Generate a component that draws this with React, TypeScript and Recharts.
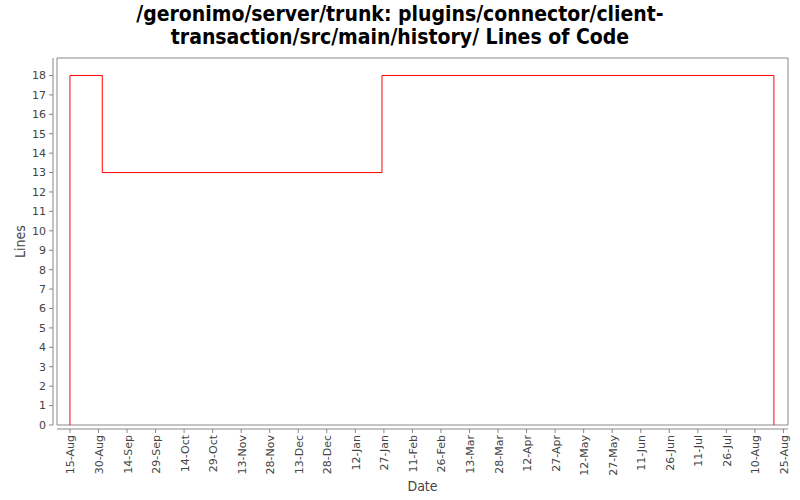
import React from 'react';
import { LineChart, Line, XAxis, YAxis, ReferenceArea } from 'recharts';

const TITLE_LINES = [
  '/geronimo/server/trunk: plugins/connector/client-',
  'transaction/src/main/history/ Lines of Code',
];

// history points (step after)
const DATES = ['2005-08-15', '2005-08-15', '2005-09-01', '2006-01-26', '2006-08-20'];
const LOC = [0, 18, 13, 18, 0];

const X_TICK_DATES = [
  '2005-08-15', '2005-08-30', '2005-09-14', '2005-09-29', '2005-10-14', '2005-10-29',
  '2005-11-13', '2005-11-28', '2005-12-13', '2005-12-28', '2006-01-12', '2006-01-27',
  '2006-02-11', '2006-02-26', '2006-03-13', '2006-03-28', '2006-04-12', '2006-04-27',
  '2006-05-12', '2006-05-27', '2006-06-11', '2006-06-26', '2006-07-11', '2006-07-26',
  '2006-08-10', '2006-08-25',
];
const Y_TICKS = [0, 1, 2, 3, 4, 5, 6, 7, 8, 9, 10, 11, 12, 13, 14, 15, 16, 17, 18];

const MONTHS = ['Jan', 'Feb', 'Mar', 'Apr', 'May', 'Jun', 'Jul', 'Aug', 'Sep', 'Oct', 'Nov', 'Dec'];
const DAY = 86400000;
const X_MIN = Date.parse('2005-08-15') - 6.8 * DAY;
const X_MAX = Date.parse('2005-08-15') + 377.4 * DAY;
const Y_MAX = 18.9;

const FONT = '"DejaVu Sans", sans-serif';
const FONT_NARROW = '"DejaVu Sans Condensed", "DejaVu Sans", sans-serif';
const AXIS = '#888888';
const TEXT = '#444444';

const data = DATES.map((d, i) => ({ t: Date.parse(d), loc: LOC[i] }));
const xTicks = X_TICK_DATES.map((d) => Date.parse(d));

const fmtDate = (t: number) => {
  const d = new Date(t);
  return `${d.getUTCDate()}-${MONTHS[d.getUTCMonth()]}`;
};

const DateTick = (props: any) => {
  const { x, payload } = props;
  return (
    <text
      transform={`translate(${x},435) rotate(-90)`}
      x={0}
      y={4.5}
      textAnchor="end"
      fill={TEXT}
      fontSize={11}
      fontFamily={FONT}
    >
      {fmtDate(payload.value)}
    </text>
  );
};

export default function App() {
  return (
    <div style={{ position: 'absolute', left: 0, top: 0, width: 800, height: 500, background: '#fff' }}>
      <div
        style={{
          position: 'absolute',
          left: 0,
          top: 3,
          width: 800,
          textAlign: 'center',
          fontFamily: FONT_NARROW,
          fontWeight: 'bold',
          fontSize: 21,
          lineHeight: '23px',
          color: '#000',
        }}
      >
        {TITLE_LINES.map((l) => (
          <div key={l}>{l}</div>
        ))}
      </div>
      <LineChart width={800} height={500} data={data} margin={{ top: 58, right: 12, bottom: 0, left: 0 }}>
        <XAxis
          dataKey="t"
          type="number"
          scale="time"
          domain={[X_MIN, X_MAX]}
          ticks={xTicks}
          interval={0}
          height={75}
          tick={<DateTick />}
          tickSize={4}
          axisLine={{ stroke: AXIS, transform: 'translate(0,4)' }}
          tickLine={{ stroke: AXIS, transform: 'translate(0,4)' }}
          allowDataOverflow
          label={{ value: 'Date', position: 'insideBottom', offset: 9, fill: TEXT, fontSize: 14, fontFamily: FONT_NARROW }}
        />
        <YAxis
          type="number"
          domain={[0, Y_MAX]}
          ticks={Y_TICKS}
          interval={0}
          width={57}
          tickSize={4}
          tickMargin={7}
          tick={{ fill: TEXT, fontSize: 11, fontFamily: FONT }}
          axisLine={{ stroke: AXIS, transform: 'translate(-4,0)' }}
          tickLine={{ stroke: AXIS, transform: 'translate(-4,0)' }}
          allowDataOverflow
          label={{
            value: 'Lines',
            angle: -90,
            position: 'insideLeft',
            offset: 20,
            fill: TEXT,
            fontSize: 14,
            fontFamily: FONT_NARROW,
            style: { textAnchor: 'middle' },
          }}
        />
        <Line
          dataKey="loc"
          type="stepAfter"
          stroke="#ff0000"
          strokeWidth={1}
          dot={false}
          isAnimationActive={false}
        />
        <ReferenceArea x1={X_MIN} x2={X_MAX} y1={0} y2={Y_MAX} fill="none" stroke={AXIS} strokeWidth={1} />
      </LineChart>
    </div>
  );
}
